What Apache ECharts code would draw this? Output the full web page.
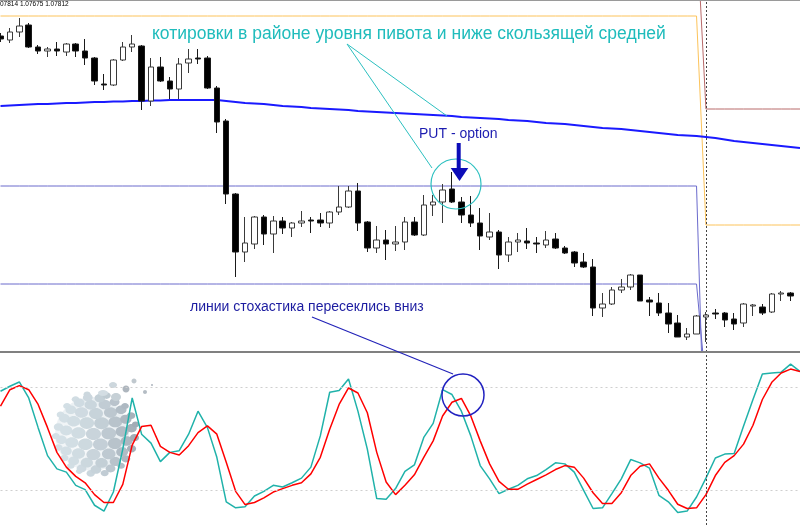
<!DOCTYPE html>
<html><head><meta charset="utf-8">
<script src="https://cdn.jsdelivr.net/npm/echarts@6/dist/echarts.min.js"></script>
<style>html,body{margin:0;padding:0;background:#fff}#c{width:800px;height:525px}</style>
</head><body><div id="c"></div>
<script>
// bar index labels (85 candles + one empty slot on the right)
const bars = Array.from({length: 86}, (_, i) => 'bar ' + (i - 1));
// candles: [open, close, low, high] (price level units)
const ohlc = [
[316,313,310,319],[312,320,309,324],[320,326,315,334],[327,305,304,329],[305,301,298,307],
[301,303,295,305],[303,301,296,310],[300,308,296,309],[308,301,295,309],[301,294,287,313],
[294,271,267,295],[268,267,262,278],[267,292,266,293],[292,305,291,310],[305,308,300,317],
[306,251,242,307],[251,285,246,294],[285,271,270,295],[271,263,253,275],[263,288,253,294],
[289,293,279,303],[294,293,288,303],[294,264,263,296],[264,230,219,266],[231,158,148,233],
[158,100,75,159],[100,109,90,135],[108,135,103,136],[135,118,107,137],[118,131,99,136],
[131,124,118,135],[124,129,115,130],[129,131,125,141],[132,131,119,135],[132,129,125,139],
[129,140,124,141],[140,145,137,166],[145,161,144,166],[161,129,121,169],[130,104,100,131],
[104,112,99,126],[112,108,92,122],[108,110,101,126],[110,130,102,135],[130,117,116,135],
[117,147,116,157],[147,150,136,157],[150,162,129,168],[163,150,149,180],[150,137,129,155],
[137,129,125,156],[129,116,102,144],[115,120,112,139],[120,97,83,122],[97,110,90,115],
[110,112,100,119],[111,109,103,124],[109,108,99,115],[107,112,104,121],[113,104,103,119],
[104,99,98,106],[100,89,85,101],[90,85,84,99],[85,44,36,93],[44,48,35,59],
[48,62,47,65],[62,65,59,73],[65,77,62,78],[77,51,51,77],[52,50,36,55],
[49,39,36,59],[39,28,19,49],[29,15,15,37],[15,18,12,24],[18,36,18,37],
[35,37,10,40],[39,38,33,43],[39,32,25,40],[33,28,22,39],[29,48,25,49],
[46,47,36,48],[45,39,37,48],[40,58,39,59],[58,59,51,61],[59,56,51,60]
];
// moving average
const movingAvg = [
246,246.5,247,247.5,248,248,248.5,249,249,249.5,
250,250,250.5,250.5,251,251,251.5,251.5,252,252,
252,252,252,252,251,250,249,248.5,248,247,
246,245.5,245,244,243.5,243,242.5,242,241,240.5,
240,239.5,239,238.5,238,237.5,237,236.5,236,235,
234.5,234,233.5,233,232,231.5,231,230,229,228.5,
228,227,226,225,224,223.5,223,222,221,220,
219,218,217,216.5,216,215,214,212.5,211,210,
209,208,207,206,205,204
];
// pivot levels: [orange, red, slate upper, slate lower] for previous day and new day
const pivotDay1 = [336, 425, 166, 68];
const pivotDay2 = [127, 243, -150, -35];
const dayBreak = 75; // index of first bar of the new day
// stochastic %K and %D
const stochK = [
77.9,80.8,83.3,74.0,56.7,40.4,32.7,30.8,23.1,20.6,
11.5,8.1,19.2,44.2,74.0,52.9,47.7,36.9,42.3,43.3,
52.9,66.3,56.7,39.4,13.5,10.0,10.6,16.9,19.6,23.1,
22.1,24.6,27.3,33.7,51.9,77.3,78.3,85.0,66.3,44.2,
15.4,15.0,21.2,31.2,35.0,51.0,59.2,78.8,76.0,66.3,
51.9,34.6,26.9,18.3,20.8,23.1,26.9,28.8,32.3,36.2,
35.6,30.8,20.2,9.6,10.0,18.3,26.9,38.1,36.2,33.1,
17.3,13.5,7.3,8.1,16.3,27.3,39.0,41.3,41.7,57.7,
73.1,87.9,88.5,89.0,93.7,89.4
];
const stochD = [
69.2,78.8,81.2,78.8,70.2,56.7,42.3,33.7,28.3,24.6,
17.7,13.1,13.1,23.7,46.5,57.3,58.1,45.8,42.3,40.8,
46.2,53.8,57.7,52.9,36.5,19.6,11.9,13.1,15.8,19.2,
21.2,23.1,24.6,29.8,39.4,55.8,70.2,79.8,76.9,65.4,
42.3,25.0,17.7,23.1,29.2,39.4,49.0,63.5,71.5,73.7,
63.5,49.0,35.6,25.4,20.8,20.8,23.8,26.5,29.2,32.3,
34.6,33.7,27.3,18.8,12.5,12.5,18.8,28.8,34.2,35.6,
27.3,20.2,12.1,9.6,10.0,17.7,28.8,36.5,40.4,47.1,
58.1,73.1,83.1,88.5,90.8,89.4
];
const stochLevels = [80, 20];
const headerText = '07814 1.07675 1.07812';
const noteTop = 'котировки в районе уровня пивота и ниже скользящей средней';
const notePut = 'PUT - option';
const noteStoch = 'линии стохастика пересеклись вниз';

const pivotSeries = k => bars.map((_, i) => i < dayBreak ? pivotDay1[k] : pivotDay2[k]);
const FONT = '"Liberation Sans", Arial, sans-serif';

// decorative dotted-globe logo (watermark)
const logo = [];
(function(){
  const cx = 96, cy = 434, R = 41, tilt = 15 * Math.PI / 180, yaw = -15 * Math.PI / 180;
  logo.push({type:'circle', shape:{cx:cx - 4, cy, r:R - 4}, style:{fill:{type:'radial', x:0.38, y:0.55, r:0.6, colorStops:[{offset:0,color:'rgba(255,255,255,1)'},{offset:1,color:'rgba(222,231,236,0.7)'}]}}, z:0, silent:true});
  for (let lat = -75; lat <= 75; lat += 15) {
    const cl = Math.cos(lat * Math.PI / 180), sl = Math.sin(lat * Math.PI / 180);
    const n = Math.max(5, Math.round(17 * cl));
    for (let k = 0; k < n; k++) {
      const lon = (k + (Math.abs(lat / 15) % 2) * 0.5) / n * 2 * Math.PI;
      const px = cl * Math.sin(lon), py = sl, pz = cl * Math.cos(lon);
      const px2 = px * Math.cos(yaw) + pz * Math.sin(yaw);
      const pz2 = -px * Math.sin(yaw) + pz * Math.cos(yaw);
      const py3 = py * Math.cos(tilt) - pz2 * Math.sin(tilt);
      const pz3 = py * Math.sin(tilt) + pz2 * Math.cos(tilt);
      if (pz3 < 0.05) continue;
      const x = cx + R * px2, y = cy - R * py3;
      const r = 7.6 * (0.4 + 0.6 * pz3);
      const t = Math.min(1, Math.max(0, (px2 + 1) / 2));
      const c1 = [212, 224, 230], c2 = [160, 170, 180];
      const col = 'rgb(' + c1.map((v, j) => Math.round(v + (c2[j] - v) * t * t)).join(',') + ')';
      logo.push({type:'ellipse', shape:{cx:x, cy:y, rx:r, ry:r * 0.8}, style:{fill:col}, z:0, silent:true});
    }
  }
  [[103,393,5,3,'#d3dde3'],[113,385,4,3,'#cdd7dd'],[116,397,5,4,'#c6d0d6'],[126,389,3.5,3.5,'#aeb6be'],[134,381,2.5,2.5,'#c0c8ce'],[145,392,2,2,'#b4bcc4'],[152,385,1,1,'#b4bcc4']]
    .forEach(d => logo.push({type:'ellipse', shape:{cx:d[0], cy:d[1], rx:d[2], ry:d[3]}, style:{fill:d[4]}, z:0, silent:true}));
})();

const chart = echarts.init(document.getElementById('c'), null, {renderer:'canvas'});
const gridW = 805;
chart.setOption({
  animation: false,
  backgroundColor: '#ffffff',
  grid: [
    {left: 0.5, width: gridW, top: 0, height: 352},
    {left: 0.5, width: gridW, top: 353.3, height: 173.4}
  ],
  xAxis: [
    {type:'category', gridIndex:0, data:bars, boundaryGap:false, show:false},
    {type:'category', gridIndex:1, data:bars, boundaryGap:false, show:false}
  ],
  yAxis: [
    {type:'value', gridIndex:0, min:0, max:352, show:false, splitLine:{show:false}},
    {type:'value', gridIndex:1, min:0, max:100, show:false, splitLine:{show:false}}
  ],
  series: [
    {type:'line', xAxisIndex:1, yAxisIndex:1, data:stochK, symbol:'none', lineStyle:{color:'#20b2aa', width:1.5}, z:3,
     markLine:{symbol:'none', silent:true, label:{show:false}, lineStyle:{color:'#444', type:[2,2], width:1}, data:[{xAxis: bars[dayBreak]}]}},
    {type:'line', xAxisIndex:1, yAxisIndex:1, data:stochD, symbol:'none', lineStyle:{color:'#ff0000', width:1.5}, z:4,
     markLine:{symbol:'none', silent:true, label:{show:false}, lineStyle:{color:'#cfcfcf', type:[2,3], width:1}, data: stochLevels.map(v => ({yAxis:v}))}},
    {type:'line', data:pivotSeries(0), symbol:'none', lineStyle:{color:'#fcc35a', width:1}, z:2},
    {type:'line', data:pivotSeries(1), symbol:'none', lineStyle:{color:'#b86a6a', width:1}, z:2},
    {type:'line', data:pivotSeries(2), symbol:'none', lineStyle:{color:'#6a6acc', width:1}, z:2},
    {type:'line', data:pivotSeries(3), symbol:'none', lineStyle:{color:'#6a6acc', width:1}, z:2},
    {type:'line', data:movingAvg, symbol:'none', lineStyle:{color:'#1a1aff', width:2}, z:3},
    {type:'candlestick', data:ohlc, barWidth:6, z:5,
     itemStyle:{color:'#ffffff', color0:'#000000', borderColor:'#3a3a3a', borderColor0:'#1a1a1a', borderWidth:1},
     markLine:{symbol:'none', silent:true, label:{show:false}, lineStyle:{color:'#444', type:[2,2], width:1}, data:[{xAxis: bars[dayBreak]}]}}
  ],
  graphic: {elements: logo.concat([
    {type:'rect', shape:{x:0, y:351, width:800, height:2}, style:{fill:'#808080'}, z:100, silent:true},
    {type:'rect', shape:{x:0, y:0, width:800, height:1}, style:{fill:'#9a9a9a'}, z:100, silent:true},
    {type:'text', x:0, y:1, style:{text:headerText, fill:'#000', font:'6.5px ' + FONT}, z:100, silent:true},
    {type:'text', x:152, y:34, style:{text:noteTop, fill:'#1fbcbc', font:'17.5px ' + FONT, verticalAlign:'middle'}, z:100, silent:true},
    {type:'line', shape:{x1:347, y1:44, x2:447, y2:116}, style:{stroke:'#2cc0c0', lineWidth:1}, z:100, silent:true},
    {type:'line', shape:{x1:347, y1:44, x2:432, y2:168}, style:{stroke:'#2cc0c0', lineWidth:1}, z:100, silent:true},
    {type:'circle', shape:{cx:456, cy:184, r:25}, style:{fill:'none', stroke:'#2cc0c0', lineWidth:1.2}, z:100, silent:true},
    {type:'text', x:419, y:134, style:{text:notePut, fill:'#1c1cb0', font:'14px ' + FONT, verticalAlign:'middle'}, z:100, silent:true},
    {type:'rect', shape:{x:456.7, y:143, width:4, height:26}, style:{fill:'#0c0cb8'}, z:100, silent:true},
    {type:'polygon', shape:{points:[[450.7,168],[468.3,168],[459.5,181]]}, style:{fill:'#0c0cb8'}, z:100, silent:true},
    {type:'text', x:190, y:307, style:{text:noteStoch, fill:'#1c1ca0', font:'14px ' + FONT, verticalAlign:'middle'}, z:100, silent:true},
    {type:'line', shape:{x1:312, y1:317, x2:453, y2:374}, style:{stroke:'#2222b8', lineWidth:1.2}, z:100, silent:true},
    {type:'circle', shape:{cx:463, cy:395, r:21}, style:{fill:'none', stroke:'#2222c0', lineWidth:1.5}, z:100, silent:true}
  ])}
});
</script></body></html>
